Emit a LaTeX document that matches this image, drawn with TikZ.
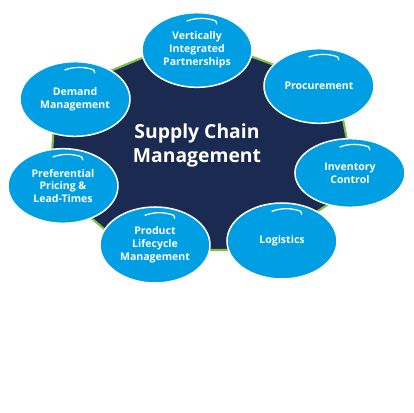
\documentclass[tikz,border=0pt]{standalone}
\usepackage{fontspec}
\setsansfont{Open Sans}
\usetikzlibrary{shapes.geometric}
\definecolor{hubnavy}{RGB}{27,42,80}
\definecolor{rimgreen}{RGB}{125,194,66}
\definecolor{bubbleblue}{RGB}{0,158,226}
\tikzset{
  hub/.style={fill=hubnavy, draw=rimgreen, line width=1.8pt, line join=round},
  hubtext/.style={text=white, align=center, font=\sffamily\bfseries\fontsize{16.5}{20.5}\selectfont},
  bubble/.style={ellipse, fill=bubbleblue, draw=white, line width=1.3pt, inner sep=0pt,
    minimum width=3.3cm, minimum height=2.24cm, align=center, text=white,
    font=\sffamily\bfseries\fontsize{9}{11}\selectfont},
  gloss/.style={draw=white, line width=1.1pt, line cap=round, line join=round},
}

\begin{document}
\begin{tikzpicture}[x=0.03cm, y=-0.03cm]
\useasboundingbox (0,0) rectangle (413,413);
\draw[hub] (196,36) -- (337,88) -- (356,187) -- (256,250) -- (129,250) -- (50,183) -- (56,93) -- cycle;
\node[hubtext] (scm) at (197,145) {Supply Chain\\Management};
\node[bubble] (vip) at (197,50) {Vertically\\Integrated\\Partnerships};
\node[bubble] (proc) at (319,86) {Procurement};
\node[bubble] (demand) at (75,99) {Demand\\Management};
\node[bubble, minimum height=2.06cm] (inv) at (350,173) {Inventory\\Control};
\node[bubble] (pref) at (63,186) {Preferential\\Pricing \&\\Lead-Times};
\node[bubble, minimum height=2.28cm] (plm) at (155,245) {Product\\Lifecycle\\Management};
\node[bubble, minimum height=2.28cm] (logi) at (282,241) {Logistics};
\foreach \b in {vip,proc,demand,inv,pref,plm,logi}
  \draw[gloss] (\b.north) ++(-10,9) arc[start angle=250, end angle=290, radius=42] -- ++(1,3);
\end{tikzpicture}
\end{document}
